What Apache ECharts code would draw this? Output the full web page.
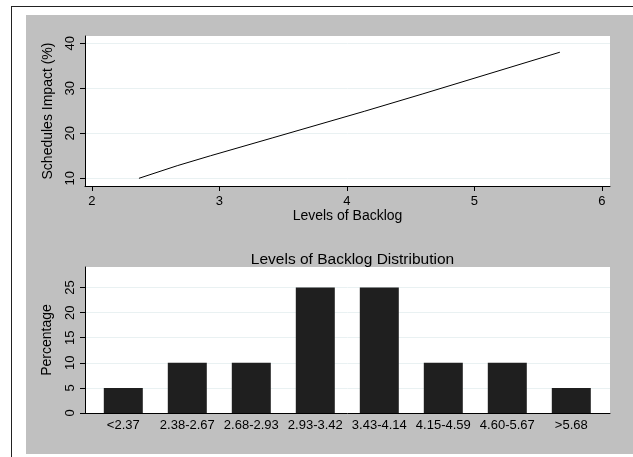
<!DOCTYPE html>
<html>
<head>
<meta charset="utf-8">
<script src="https://cdn.jsdelivr.net/npm/echarts@6/dist/echarts.min.js"></script>
<style>
html,body{margin:0;padding:0;background:#fff;}
#c{width:633px;height:457px;}
</style>
</head>
<body>
<div id="c"></div>
<script>
// Top chart: fitted line
var lineX = [2.37, 2.67, 2.93, 3.42, 4.14, 4.59, 5.67];
var lineY = [10.0, 12.8, 15.0, 19.0, 24.9, 28.7, 38.0];
var topXTicks = [2, 3, 4, 5, 6];
var topYTicks = [10, 20, 30, 40];

// Bottom chart: distribution
var categories = ['<2.37', '2.38-2.67', '2.68-2.93', '2.93-3.42', '3.43-4.14', '4.15-4.59', '4.60-5.67', '>5.68'];
var percentages = [5, 10, 10, 25, 25, 10, 10, 5];
var bottomYTicks = [0, 5, 10, 15, 20, 25];

var FONT = 'Liberation Sans, Arial, Helvetica, sans-serif';
var TXT = '#000';
var GRIDLINE = '#e9f1f2';

var chart = echarts.init(document.getElementById('c'), null, {renderer: 'canvas'});

var option = {
  backgroundColor: '#fff',
  animation: false,
  textStyle: {fontFamily: FONT},
  graphic: [
    {type: 'rect', z: -10, shape: {x: 26, y: 15, width: 607, height: 439}, style: {fill: '#c0c0c0'}},
    {type: 'line', z: -9, shape: {x1: 11, y1: 6.5, x2: 633, y2: 6.5}, style: {stroke: '#222', lineWidth: 1}},
    {type: 'line', z: -9, shape: {x1: 11.5, y1: 6, x2: 11.5, y2: 457}, style: {stroke: '#222', lineWidth: 1}}
  ],
  title: {
    text: 'Levels of Backlog Distribution',
    left: 347.5,
    textAlign: 'center',
    top: 247,
    textStyle: {fontFamily: FONT, fontSize: 15.5, fontWeight: 'normal', color: TXT}
  },
  grid: [
    {left: 85, top: 36, width: 525, height: 150, show: true, backgroundColor: '#fff', borderWidth: 0},
    {left: 85, top: 267, width: 525, height: 146, show: true, backgroundColor: '#fff', borderWidth: 0},
    {left: 91.3, top: 267, width: 512, height: 146, show: false}
  ],
  xAxis: [
    {
      gridIndex: 0, type: 'value', min: 1.947, max: 6.063,
      name: 'Levels of Backlog', nameLocation: 'middle', nameGap: 22,
      nameTextStyle: {fontFamily: FONT, fontSize: 14, color: TXT},
      axisLine: {show: true, lineStyle: {color: '#000', width: 1}},
      axisTick: {show: true, length: 5, customValues: topXTicks, lineStyle: {color: '#000'}},
      axisLabel: {customValues: topXTicks, margin: 9, fontFamily: FONT, fontSize: 13, color: TXT},
      splitLine: {show: false}
    },
    {
      gridIndex: 1, type: 'value', min: 0, max: 1,
      axisLine: {show: true, lineStyle: {color: '#000', width: 1}},
      axisTick: {show: false}, axisLabel: {show: false}, splitLine: {show: false}
    },
    {
      gridIndex: 2, type: 'category', data: categories, boundaryGap: true,
      axisLine: {show: false}, axisTick: {show: false},
      axisLabel: {interval: 0, margin: 6, fontFamily: FONT, fontSize: 13, color: TXT},
      splitLine: {show: false}
    }
  ],
  yAxis: [
    {
      gridIndex: 0, type: 'value', min: 8.29, max: 41.6,
      name: 'Schedules Impact (%)', nameLocation: 'middle', nameGap: 30, nameRotate: 90,
      nameTextStyle: {fontFamily: FONT, fontSize: 14, color: TXT},
      axisLine: {show: true, lineStyle: {color: '#000', width: 1}},
      axisTick: {show: true, length: 5, customValues: topYTicks, lineStyle: {color: '#000'}},
      axisLabel: {customValues: topYTicks, rotate: 90, margin: 8, fontFamily: FONT, fontSize: 13, color: TXT},
      splitLine: {show: true, lineStyle: {color: GRIDLINE, width: 1}}
    },
    {
      gridIndex: 1, type: 'value', min: 0, max: 29.1,
      name: 'Percentage', nameLocation: 'middle', nameGap: 31, nameRotate: 90,
      nameTextStyle: {fontFamily: FONT, fontSize: 14, color: TXT},
      axisLine: {show: true, lineStyle: {color: '#000', width: 1}},
      axisTick: {show: true, length: 5, customValues: bottomYTicks, lineStyle: {color: '#000'}},
      axisLabel: {customValues: bottomYTicks, rotate: 90, margin: 8, fontFamily: FONT, fontSize: 13, color: TXT},
      splitLine: {show: true, lineStyle: {color: GRIDLINE, width: 1}}
    },
    {
      gridIndex: 2, type: 'value', min: 0, max: 29.1, show: false
    }
  ],
  series: [
    {
      type: 'line', xAxisIndex: 0, yAxisIndex: 0,
      data: lineX.map(function (x, i) { return [x, lineY[i]]; }),
      showSymbol: false, symbol: 'none',
      lineStyle: {color: '#000', width: 1}
    },
    {
      type: 'bar', xAxisIndex: 2, yAxisIndex: 2,
      data: percentages, barWidth: 39,
      itemStyle: {color: '#1f1f1f'}
    }
  ]
};
chart.setOption(option);
</script>
</body>
</html>
